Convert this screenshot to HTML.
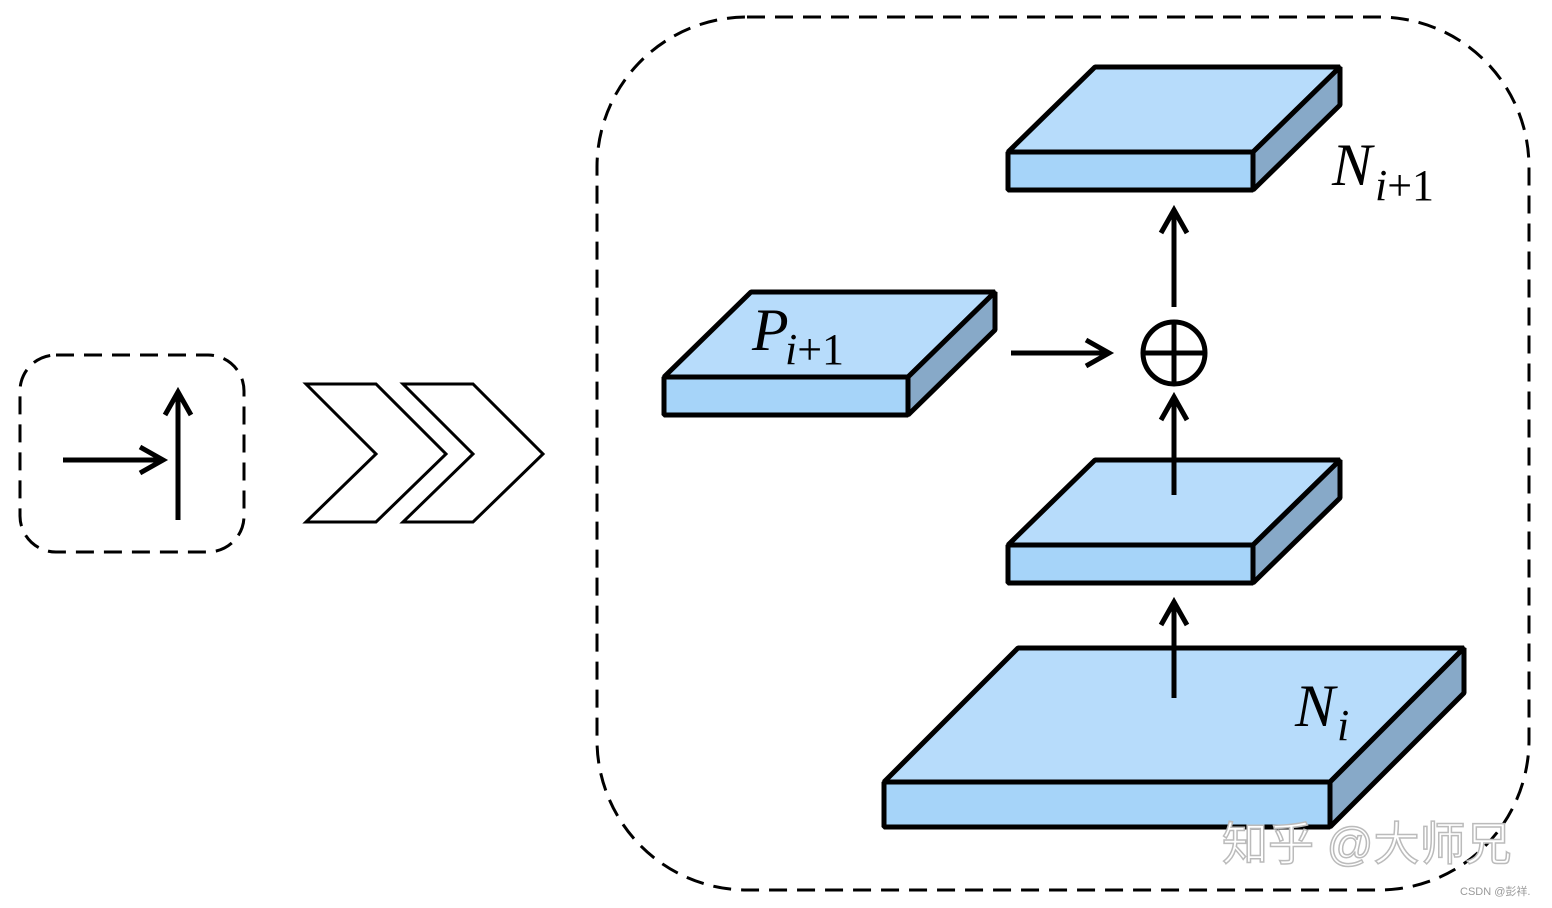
<!DOCTYPE html>
<html><head><meta charset="utf-8"><style>html,body{margin:0;padding:0;background:#fff;}svg{display:block}</style></head>
<body>
<svg width="1552" height="908" viewBox="0 0 1552 908" xmlns="http://www.w3.org/2000/svg">
<rect x="597" y="17" width="932" height="873" rx="150" fill="none" stroke="#000" stroke-width="3" stroke-dasharray="18,10"/>
<rect x="20" y="355" width="224" height="197" rx="36" fill="none" stroke="#000" stroke-width="3" stroke-dasharray="18,10"/>
<g stroke="#000" stroke-width="5" fill="none" stroke-linecap="butt">
<line x1="63" y1="460" x2="163" y2="460"/><polyline points="140,447 163,460 140,473"/>
<line x1="178" y1="520" x2="178" y2="392"/><polyline points="165,415 178,392 191,415"/>
</g>
<g stroke="#000" stroke-width="3" fill="#fff">
<polygon points="306,384 376,384 446,454 376,522 306,522 376,454"/>
<polygon points="403,384 473,384 543,454 473,522 403,522 473,454"/>
</g>
<g stroke="#000" stroke-width="5" stroke-linejoin="bevel">
<polygon points="1008,152 1095,67 1340,67 1253,152" fill="#b7dcfb"/>
<polygon points="1253,152 1340,67 1340,105 1253,190" fill="#87a9c8"/>
<rect x="1008" y="152" width="245" height="38" fill="#a6d4f9"/>
<polygon points="1008,545 1095,460 1340,460 1253,545" fill="#b7dcfb"/>
<polygon points="1253,545 1340,460 1340,498 1253,583" fill="#87a9c8"/>
<rect x="1008" y="545" width="245" height="38" fill="#a6d4f9"/>
<polygon points="664,377 751,292 995,292 908,377" fill="#b7dcfb"/>
<polygon points="908,377 995,292 995,330 908,415" fill="#87a9c8"/>
<rect x="664" y="377" width="244" height="38" fill="#a6d4f9"/>
<polygon points="884,782 1018,648 1464,648 1330,782" fill="#b7dcfb"/>
<polygon points="1330,782 1464,648 1464,693 1330,827" fill="#87a9c8"/>
<rect x="884" y="782" width="446" height="45" fill="#a6d4f9"/>
</g>
<g stroke="#000" stroke-width="5" fill="none">
<line x1="1174" y1="307" x2="1174" y2="210"/><polyline points="1161,233 1174,210 1187,233"/>
<line x1="1174" y1="495" x2="1174" y2="397"/><polyline points="1161,420 1174,397 1187,420"/>
<line x1="1174" y1="698" x2="1174" y2="602"/><polyline points="1161,625 1174,602 1187,625"/>
<line x1="1011" y1="353" x2="1109" y2="353"/><polyline points="1086,340 1109,353 1086,366"/>
<circle cx="1174" cy="353" r="31"/>
<line x1="1143" y1="353" x2="1205" y2="353"/><line x1="1174" y1="322" x2="1174" y2="384"/>
</g>
<g font-family="'Liberation Serif', serif" fill="#000">
<text x="1332" y="185" font-size="60" font-style="italic">N</text>
<text x="1375" y="200" font-size="44"><tspan font-style="italic">i</tspan>+1</text>
<text x="752" y="350" font-size="60" font-style="italic">P</text>
<text x="785" y="364" font-size="44"><tspan font-style="italic">i</tspan>+1</text>
<text x="1295" y="726" font-size="60" font-style="italic">N</text>
<text x="1337" y="740" font-size="44" font-style="italic">i</text>
</g>
<text x="1222" y="860" font-family="'Liberation Sans', 'Noto Sans CJK SC', sans-serif" font-size="46" fill="#fff" stroke="#bbb" stroke-width="1.5">知乎 @大师兄</text>
<text x="1460" y="895" font-family="'Liberation Sans', 'Noto Sans CJK SC', sans-serif" font-size="11" fill="#999">CSDN @彭祥.</text>
</svg>
</body></html>
